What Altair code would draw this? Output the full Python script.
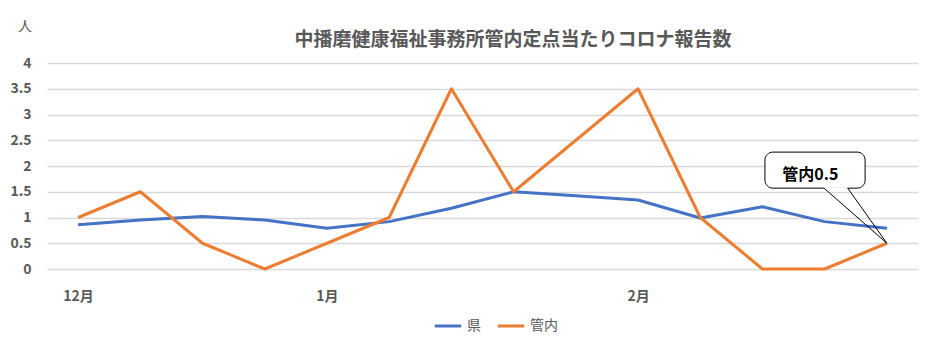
import altair as alt
import pandas as pd

# data
week_index = list(range(14))
ken = [0.86, 0.95, 1.02, 0.95, 0.79, 0.92, 1.18, 1.50, 1.42, 1.34, 0.99, 1.21, 0.92, 0.79]
kannai = [1.0, 1.5, 0.5, 0.0, 0.5, 1.0, 3.5, 1.5, 2.5, 3.5, 1.0, 0.0, 0.0, 0.5]
series_names = ["県", "管内"]
series_colors = ["#4472C4", "#ED7D31"]
month_ticks = [0, 4, 9]
month_labels = ["12月", "1月", "2月"]
y_ticks = [0, 0.5, 1, 1.5, 2, 2.5, 3, 3.5, 4]
title_text = "中播磨健康福祉事務所管内定点当たりコロナ報告数"
unit_text = "人"

# callout annotation (data units)
callout_text = "管内0.5"
callout_tip = {"x": 13, "y": 0.5}
callout_box = {"x": 11.04, "x2": 12.65, "y": 2.27, "y2": 1.57}
callout_base = [11.99, 12.37]
callout_label_pos = {"x": 11.77, "y": 1.83}

FONT = "Noto Sans CJK JP"
GRAY = "#595959"

rows = []
for i, v in zip(week_index, ken):
    rows.append({"i": i, "v": v, "s": series_names[0]})
for i, v in zip(week_index, kannai):
    rows.append({"i": i, "v": v, "s": series_names[1]})
df = pd.DataFrame(rows)

label_map = "{" + ",".join(f"'{t}':'{l}'" for t, l in zip(month_ticks, month_labels)) + "}"

xscale = alt.Scale(domain=[-0.5, 13.5], nice=False, zero=False)
yscale = alt.Scale(domain=[0, 4], nice=False)

x_axis = alt.Axis(
    values=month_ticks, labelExpr=f"{label_map}[datum.value]", title=None,
    grid=False, domain=False, ticks=False, labelPadding=20,
    labelFontSize=14, labelFontWeight="bold", labelColor=GRAY, labelFont=FONT)
y_axis = alt.Axis(
    values=y_ticks, labelExpr="'' + datum.value", title=None,
    grid=True, gridColor="#D9D9D9", gridWidth=1.3, domain=False, ticks=False,
    labelPadding=16, labelFontSize=14, labelFontWeight="bold",
    labelColor=GRAY, labelFont=FONT, labelOverlap=False)


def X(f):
    return alt.X(f, scale=xscale, axis=x_axis, title=None)


def Y(f):
    return alt.Y(f, scale=yscale, axis=y_axis, title=None)


lines = alt.Chart(df).mark_line(strokeWidth=3, strokeJoin="round").encode(
    x=X("i:Q"), y=Y("v:Q"),
    color=alt.Color("s:N", scale=alt.Scale(domain=series_names, range=series_colors),
                    legend=alt.Legend(title=None, orient="none", direction="horizontal",
                                      legendX=386, legendY=248, symbolType="stroke",
                                      symbolStrokeWidth=3, symbolSize=700,
                                      labelFontSize=14, labelColor=GRAY, labelFont=FONT,
                                      columnPadding=10, labelOffset=4)),
    order=alt.Order("i:Q"),
)

box_df = pd.DataFrame([callout_box])
box = alt.Chart(box_df).mark_rect(fill="white", stroke="black", strokeWidth=1,
                                  cornerRadius=8).encode(
    x=X("x:Q"), x2="x2:Q", y=Y("y:Q"), y2="y2:Q")

gap_df = pd.DataFrame([{"x": callout_base[0], "x2": callout_base[1], "y": callout_box["y2"]}])
gap = alt.Chart(gap_df).mark_rule(color="white", strokeWidth=2).encode(
    x=X("x:Q"), x2="x2:Q", y=Y("y:Q"))

ptr_df = pd.DataFrame([
    {"x": b, "y": callout_box["y2"], "x2": callout_tip["x"], "y2": callout_tip["y"]}
    for b in callout_base])
ptr = alt.Chart(ptr_df).mark_rule(color="black", strokeWidth=1).encode(
    x=X("x:Q"), x2="x2:Q", y=Y("y:Q"), y2="y2:Q")

lbl_df = pd.DataFrame([{"x": callout_label_pos["x"], "y": callout_label_pos["y"], "t": callout_text}])
lbl = alt.Chart(lbl_df).mark_text(font=FONT, fontSize=16, fontWeight="bold",
                                  color="black", align="center", baseline="middle").encode(
    x=X("x:Q"), y=Y("y:Q"), text="t:N")

title_mark = alt.Chart(pd.DataFrame([{"t": title_text}])).mark_text(
    font=FONT, fontSize=19, fontWeight="bold", color=GRAY,
    align="center", baseline="middle").encode(
    x=alt.value(466), y=alt.value(-23), text="t:N")

unit_mark = alt.Chart(pd.DataFrame([{"t": unit_text}])).mark_text(
    font=FONT, fontSize=14, color=GRAY, align="center", baseline="middle").encode(
    x=alt.value(-22), y=alt.value(-36), text="t:N")

chart = alt.layer(lines, box, gap, ptr, lbl, title_mark, unit_mark).properties(
    width=871, height=206,
    autosize=alt.AutoSizeParams(type="none"),
    padding={"left": 39, "top": 55, "right": 4, "bottom": 85},
).configure(background="white", view=alt.ViewConfig(stroke=None))

chart.save("out.html", embed_options={"renderer": "svg", "actions": False})
